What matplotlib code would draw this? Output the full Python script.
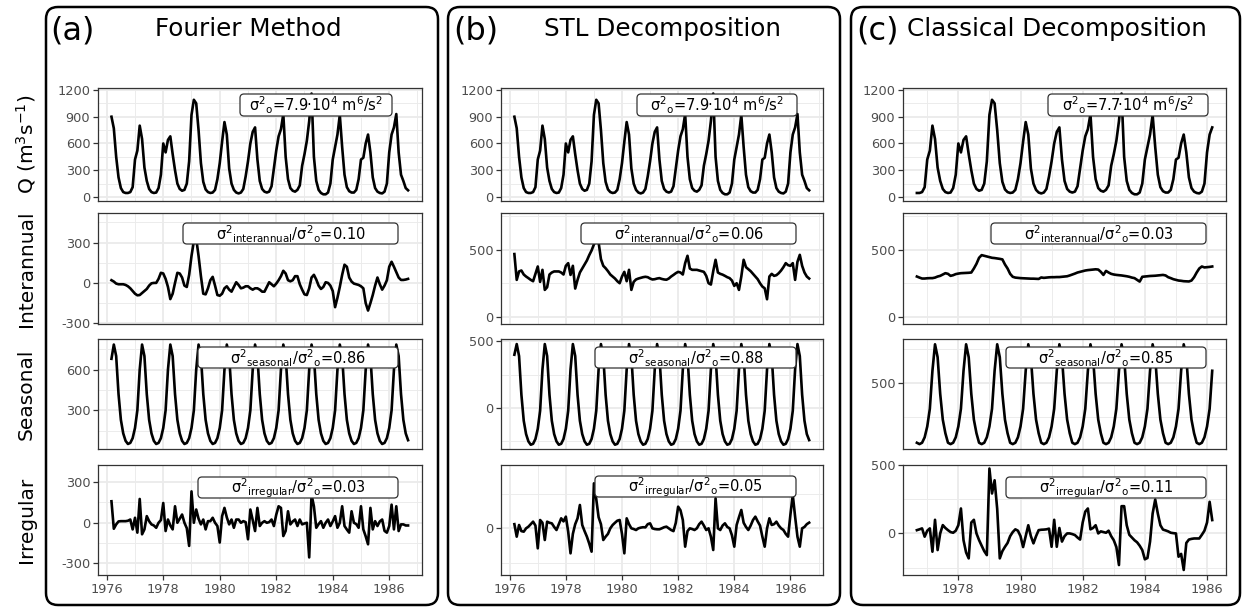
import numpy as np
import matplotlib.pyplot as plt
from matplotlib.patches import FancyBboxPatch

plt.rcParams['font.family'] = ['DejaVu Sans']
plt.rcParams['mathtext.default'] = 'regular'
plt.rcParams['axes.unicode_minus'] = False

W, H = 1242, 609

# ---- data (monthly, Mar 1976 - Sep 1986) ----
start_year = 1976
start_month = 3

q_obs = [
    900, 770, 450, 220, 100, 55, 45, 45, 55, 110,
    420, 520, 800, 650, 330, 180, 90, 55, 45, 50, 100, 250,
    600, 500, 640, 680, 480, 300, 150, 90, 70, 80, 150, 400,
    920, 1090, 1050, 750, 380, 170, 85, 55, 45, 50, 80, 200,
    380, 620, 840, 700, 320, 150, 80, 50, 40, 50, 90, 230,
    400, 600, 730, 780, 420, 180, 90, 60, 50, 60, 120, 320,
    520, 680, 760, 930, 450, 200, 100, 70, 60, 80, 130, 350,
    480, 630, 850, 1160, 450, 180, 80, 45, 30, 30, 50, 150,
    420, 560, 700, 920, 560, 250, 110, 65, 50, 50, 80, 200,
    420, 440, 600, 700, 500, 220, 100, 60, 45, 40, 60, 150,
    500, 700, 780, 930, 500, 250, 180, 100, 75,
]

# Fourier method components
fourier_inter = [
    20, 10, -5, -10, -10, -10, -15, -25, -40, -60,
    -80, -92, -90, -75, -60, -45, -20, -3, 0, 0,
    30, 75, 70, 30, -30, -120, -80, 0, 75, 70,
    40, -20, -30, 60, 200, 310, 330, 200, 50, -80,
    -85, -40, 20, 45, -20, -90, -95, -80, -40, -25,
    -50, -65, -30, 5, -15, -40, -35, -25, -25, -40,
    -50, -40, -40, -50, -65, -65, -30, 5, -10, -25,
    -5, 20, 50, 90, 70, 20, 12, 20, 50, 50,
    -10, -50, -85, -90, -40, 40, 60, 25, -20, -45,
    -30, 5, 0, -20, -60, -180, -110, -30, 60, 135,
    120, 40, 10, -5, -10, -15, -25, -40, -150, -205,
    -150, -90, -20, 40, -10, -50, -20, 20, 120, 157,
    120, 80, 40, 22, 22, 25, 30,
]
fourier_seas = [
    680, 785, 700, 420, 230, 130, 75, 52, 60, 95,
    170, 300, 600, 785, 700, 420, 230, 130, 75, 52, 60, 95,
    170, 300, 600, 785, 700, 420, 230, 130, 75, 52, 60, 95,
    170, 300, 600, 785, 700, 420, 230, 130, 75, 52, 60, 95,
    170, 300, 600, 785, 700, 420, 230, 130, 75, 52, 60, 95,
    170, 300, 600, 785, 700, 420, 230, 130, 75, 52, 60, 95,
    170, 300, 600, 785, 700, 420, 230, 130, 75, 52, 60, 95,
    170, 300, 600, 785, 700, 420, 230, 130, 75, 52, 60, 95,
    170, 300, 600, 785, 700, 420, 230, 130, 75, 52, 60, 95,
    170, 300, 600, 785, 700, 420, 230, 130, 75, 52, 60, 95,
    170, 300, 600, 785, 700, 420, 230, 130, 80,
]
fourier_irr = [
    159, -44, -12, 10, 12, 12, 12, 15, 24, -49,
    37, -73, 176, -85, -49, 49, 12, -12, -20, -37,
    0, 20, 146, -61, 24, -20, -49, 122, 0, 30,
    61, 0, -40, -171, 232, 0, 98, 30, -12, 24,
    -49, 12, 12, 37, 0, -24, -146, 49, 110, 40,
    -12, 24, -37, 24, 24, 0, 12, 5, -122, 98,
    20, -61, 110, -24, 0, 12, 0, 5, 24, -24,
    60, 122, 110, -98, -60, 85, -12, 10, 24, -24,
    24, -12, -5, 0, -256, 207, 122, -37, -10, 12,
    -37, 0, 24, -24, 10, 49, -37, 0, 122, -24,
    -50, -73, 85, 0, -10, -37, 122, -49, -100, -159,
    110, -49, 12, -24, 10, 24, -60, -73, -24, 134,
    -49, 122, -61, -12, -12, -20, -20,
]

# STL components
stl_inter = [
    468, 275, 338, 345, 315, 300, 288, 275, 265, 320,
    375, 260, 350, 200, 220, 315, 330, 338, 338, 338,
    330, 315, 380, 400, 312, 380, 210, 275, 330, 360,
    390, 420, 460, 495, 540, 580, 555, 430, 380, 362,
    340, 315, 300, 285, 265, 250, 300, 335, 265, 350,
    200, 260, 278, 285, 290, 295, 298, 295, 285, 278,
    280, 285, 288, 282, 278, 276, 285, 300, 312, 325,
    335, 330, 315, 400, 455, 360, 350, 350, 350, 345,
    340, 335, 305, 250, 240, 340, 425, 330, 320, 314,
    305, 295, 288, 270, 230, 250, 200, 300, 425, 370,
    355, 340, 320, 300, 280, 250, 225, 212, 130, 300,
    320, 305, 310, 325, 345, 370, 400, 385, 380, 400,
    275, 410, 462, 380, 330, 300, 285,
]
stl_seas = [
    400, 480, 390, 100, -95, -195, -250, -275, -268, -232,
    -155, -20, 290, 480, 390, 100, -95, -195, -250, -275, -268, -232,
    -155, -20, 290, 480, 390, 100, -95, -195, -250, -275, -268, -232,
    -155, -20, 290, 480, 390, 100, -95, -195, -250, -275, -268, -232,
    -155, -20, 290, 480, 390, 100, -95, -195, -250, -275, -268, -232,
    -155, -20, 290, 480, 390, 100, -95, -195, -250, -275, -268, -232,
    -155, -20, 290, 480, 390, 100, -95, -195, -250, -275, -268, -232,
    -155, -20, 290, 480, 390, 100, -95, -195, -250, -275, -268, -232,
    -155, -20, 290, 480, 390, 100, -95, -195, -250, -275, -268, -232,
    -155, -20, 290, 480, 390, 100, -95, -195, -250, -275, -268, -232,
    -155, -20, 290, 480, 390, 100, -95, -195, -240,
]
stl_irr = [
    30, -60, 24, -20, -24, 0, 12, 30, 48, 20,
    -144, 60, 40, -84, 48, 40, 36, 10, -12, 30,
    72, 50, 84, -24, -180, -40, 30, 72, 168, 24,
    -20, -60, -110, -168, 324, 210, 80, 30, -84, -60,
    -40, 0, 24, 40, 55, 60, -40, -180, 72, 30,
    0, -5, -12, 0, 5, 8, 7, 30, 36, 0,
    -5, -7, -7, 0, 8, 12, 0, -12, -20, 40,
    156, 130, 60, -132, -20, 0, -5, -12, 0, 30,
    48, 20, -12, 0, -60, -156, 216, 0, -12, 20,
    36, 10, 0, -50, -132, 24, 80, 132, 40, 10,
    -12, 20, 60, 84, 50, 20, -60, -132, 0, 72,
    24, 30, 48, 20, 0, -12, -40, -60, 100, 240,
    84, -60, -132, 0, 10, 30, 41,
]

# classical decomposition (Sep 1976 - Mar 1986)
classic_first = 6
classic_inter = [
    300, 292, 285, 285, 287, 288, 288, 292, 300, 305,
    315, 325, 320, 305, 310, 318, 322, 325, 326, 327,
    328, 330, 360, 395, 440, 460, 455, 450, 445, 440,
    438, 435, 432, 428, 390, 360, 320, 298, 292, 290,
    288, 287, 286, 285, 284, 284, 283, 282, 293, 290,
    292, 294, 295, 295, 296, 296, 298, 300, 302, 308,
    315, 322, 330, 335, 340, 345, 348, 350, 352, 354,
    352, 335, 312, 342, 330, 320, 315, 312, 310, 308,
    305, 302, 298, 292, 288, 275, 262, 298, 300, 302,
    304, 305, 306, 308, 310, 312, 308, 295, 288, 280,
    275, 270, 268, 265, 264, 263, 270, 295, 330, 360,
    375, 368, 370, 372, 375,
]
classic_seas = [
    60, 50, 60, 100,
    180, 310, 590, 785, 690, 420, 230, 130, 60, 50, 60, 100,
    180, 310, 590, 785, 690, 420, 230, 130, 60, 50, 60, 100,
    180, 310, 590, 785, 690, 420, 230, 130, 60, 50, 60, 100,
    180, 310, 590, 785, 690, 420, 230, 130, 60, 50, 60, 100,
    180, 310, 590, 785, 690, 420, 230, 130, 60, 50, 60, 100,
    180, 310, 590, 785, 690, 420, 230, 130, 60, 50, 60, 100,
    180, 310, 590, 785, 690, 420, 230, 130, 60, 50, 60, 100,
    180, 310, 590, 785, 690, 420, 230, 130, 60, 50, 60, 100,
    180, 310, 590, 785, 690, 420, 230, 130, 60, 50, 60, 100,
    180, 310, 590,
]
classic_irr = [
    24, 30, 37, -24, 20, 37, -134, 100, -122, 0,
    61, 40, 24, 10, 5, 20, 60, 183, -50, -140,
    -183, 80, 100, 0, -49, -90, -130, -159, 476, 293,
    390, 180, -183, -130, -98, -70, -20, 10, 30, 20,
    -20, -100, -20, 60, -20, -73, -20, 24, 27, 28,
    30, 35, -98, 100, -98, 40, -60, -20, 0, 0,
    -5, -12, -30, -45, 80, 160, 183, 30, 40, 60,
    0, 15, 10, 5, 20, -20, -50, -100, -232, 200,
    200, 60, -10, -30, -50, -65, -90, -122, -190, -180,
    -60, 146, 249, 146, 60, 28, 22, 15, 5, 2,
    0, -171, -150, -268, -70, -45, -40, -37, -37, -37,
    -10, 20, 80, 232, 98,
]

# label texts
var_labels = [
    ['$\\sigma^{2}{}_{o}$=7.9·10$^{4}$ m$^{6}$/s$^{2}$',
     '$\\sigma^{2}{}_{interannual}$/$\\sigma^{2}{}_{o}$=0.10',
     '$\\sigma^{2}{}_{seasonal}$/$\\sigma^{2}{}_{o}$=0.86',
     '$\\sigma^{2}{}_{irregular}$/$\\sigma^{2}{}_{o}$=0.03'],
    ['$\\sigma^{2}{}_{o}$=7.9·10$^{4}$ m$^{6}$/s$^{2}$',
     '$\\sigma^{2}{}_{interannual}$/$\\sigma^{2}{}_{o}$=0.06',
     '$\\sigma^{2}{}_{seasonal}$/$\\sigma^{2}{}_{o}$=0.88',
     '$\\sigma^{2}{}_{irregular}$/$\\sigma^{2}{}_{o}$=0.05'],
    ['$\\sigma^{2}{}_{o}$=7.7·10$^{4}$ m$^{6}$/s$^{2}$',
     '$\\sigma^{2}{}_{interannual}$/$\\sigma^{2}{}_{o}$=0.03',
     '$\\sigma^{2}{}_{seasonal}$/$\\sigma^{2}{}_{o}$=0.85',
     '$\\sigma^{2}{}_{irregular}$/$\\sigma^{2}{}_{o}$=0.11'],
]
col_titles = ['Fourier Method', 'STL Decomposition', 'Classical Decomposition']
col_tags = ['(a)', '(b)', '(c)']
row_names = ['Q (m$^{3}$s$^{-1}$)', 'Interannual', 'Seasonal', 'Irregular']

# ---- time axis ----
t_full = start_year + (start_month - 1 + np.arange(len(q_obs))) / 12.0
t_classic = t_full[classic_first:classic_first + len(classic_inter)]
q_classic = q_obs[classic_first:classic_first + len(classic_inter)]

series = [
    [(t_full, q_obs), (t_full, fourier_inter), (t_full, fourier_seas), (t_full, fourier_irr)],
    [(t_full, q_obs), (t_full, stl_inter), (t_full, stl_seas), (t_full, stl_irr)],
    [(t_classic, q_classic), (t_classic, classic_inter), (t_classic, classic_seas), (t_classic, classic_irr)],
]

# ---- layout (pixels) ----
col_x = [(98, 422), (501, 823), (903, 1226)]
row_y = [(88, 201), (213, 324), (339, 449), (465, 575)]
col_box = [(46, 438), (448, 840), (851, 1240)]
x_lims = [(1975.69, 1987.16), (1975.69, 1987.16), (1976.22, 1986.61)]

# y limits, major and minor breaks per [column][row]
y_setup = [
    [((-45, 1222), [0, 300, 600, 900, 1200], [150, 450, 750, 1050]),
     ((-305, 519), [-300, 0, 300], [-150, 150, 450]),
     ((15, 826), [300, 600], [150, 450, 750]),
     ((-386, 427), [-300, 0, 300], [-150, 150])],
    [((-45, 1222), [0, 300, 600, 900, 1200], [150, 450, 750, 1050]),
     ((-55, 775), [0, 500], [250, 750]),
     ((-307, 518), [0, 500], [-250, 250]),
     ((-336, 456), [0], [-250, 250])],
    [((-45, 1222), [0, 300, 600, 900, 1200], [150, 450, 750, 1050]),
     ((-55, 775), [0, 500], [250, 750]),
     ((14, 824), [500], [250, 750]),
     ((-305, 502), [0, 500], [-250, 250])],
]

# label boxes (x0, x1, y0, y1) in pixels
label_boxes = [
    [(240, 392, 94, 116), (183, 398, 223, 244), (198, 398, 347, 368), (198, 398, 477, 498)],
    [(637, 797, 94, 116), (581, 796, 223, 244), (595, 796, 347, 368), (595, 796, 476, 497)],
    [(1048, 1208, 94, 116), (991, 1206, 223, 244), (1006, 1206, 347, 368), (1006, 1206, 477, 498)],
]

fig = plt.figure(figsize=(W / 100, H / 100), dpi=100)


def fig_rbox(x0, x1, y0, y1, r, **kw):
    # rounded box given in pixel coords (y from top)
    p = FancyBboxPatch((x0 / W, 1 - y1 / H), (x1 - x0) / W, (y1 - y0) / H,
                       boxstyle='round,pad=0,rounding_size=%f' % (r / W),
                       mutation_aspect=W / H, transform=fig.transFigure, **kw)
    fig.add_artist(p)


grid_col = '#ebebeb'
frame_col = '#333333'

for c in range(3):
    x0, x1 = col_x[c]
    for r in range(4):
        y0, y1 = row_y[r]
        ax = fig.add_axes([x0 / W, 1 - y1 / H, (x1 - x0) / W, (y1 - y0) / H])
        t, y = series[c][r]
        ax.plot(t, y, color='black', lw=1.9, solid_joinstyle='round')

        ylim, ymaj, ymin = y_setup[c][r]
        ax.set_ylim(ylim)
        ax.set_yticks(ymaj)
        ax.set_yticks(ymin, minor=True)
        ax.set_xticks(range(1976, 1988, 2))
        ax.set_xticks(range(1977, 1988, 2), minor=True)
        ax.set_xlim(x_lims[c])

        ax.grid(which='major', color=grid_col, lw=1.3)
        ax.grid(which='minor', color=grid_col, lw=0.65)
        ax.set_axisbelow(True)
        ax.tick_params(which='minor', length=0)
        ax.tick_params(which='major', length=3.5, width=0.9, color=frame_col,
                       labelsize=9.3, labelcolor='#4d4d4d', pad=2)
        if r < 3:
            ax.tick_params(axis='x', which='major', length=0, labelbottom=False)
        for s in ax.spines.values():
            s.set_color(frame_col)
            s.set_linewidth(0.9)

        # variance label
        bx0, bx1, by0, by1 = label_boxes[c][r]
        fig_rbox(bx0, bx1, by0, by1, 4, facecolor='white', edgecolor=frame_col,
                 lw=0.9, zorder=3)
        fig.text((bx0 + bx1) / 2 / W, 1 - ((by0 + by1) / 2 + 0.5) / H, var_labels[c][r],
                 ha='center', va='center', fontsize=10.5, zorder=4)

    # column frame
    bx0, bx1 = col_box[c]
    fig_rbox(bx0, bx1, 7, 605, 12, facecolor='none', edgecolor='black', lw=1.8, zorder=2)

# column tags and titles
fig.text(50 / W, 1 - 40 / H, col_tags[0], fontsize=23, ha='left', va='baseline')
fig.text(248 / W, 1 - 36 / H, col_titles[0], fontsize=17.7, ha='center', va='baseline')
fig.text(453 / W, 1 - 40 / H, col_tags[1], fontsize=23, ha='left', va='baseline')
fig.text(663 / W, 1 - 36 / H, col_titles[1], fontsize=17.7, ha='center', va='baseline')
fig.text(856 / W, 1 - 40 / H, col_tags[2], fontsize=23, ha='left', va='baseline')
fig.text(1057 / W, 1 - 36 / H, col_titles[2], fontsize=17.7, ha='center', va='baseline')

# row names on the left
for r in range(4):
    y0, y1 = row_y[r]
    fig.text(26 / W, 1 - (y0 + y1) / 2 / H, row_names[r], rotation=90,
             ha='center', va='center', fontsize=14.5)

fig.savefig('out.png', dpi=100)
